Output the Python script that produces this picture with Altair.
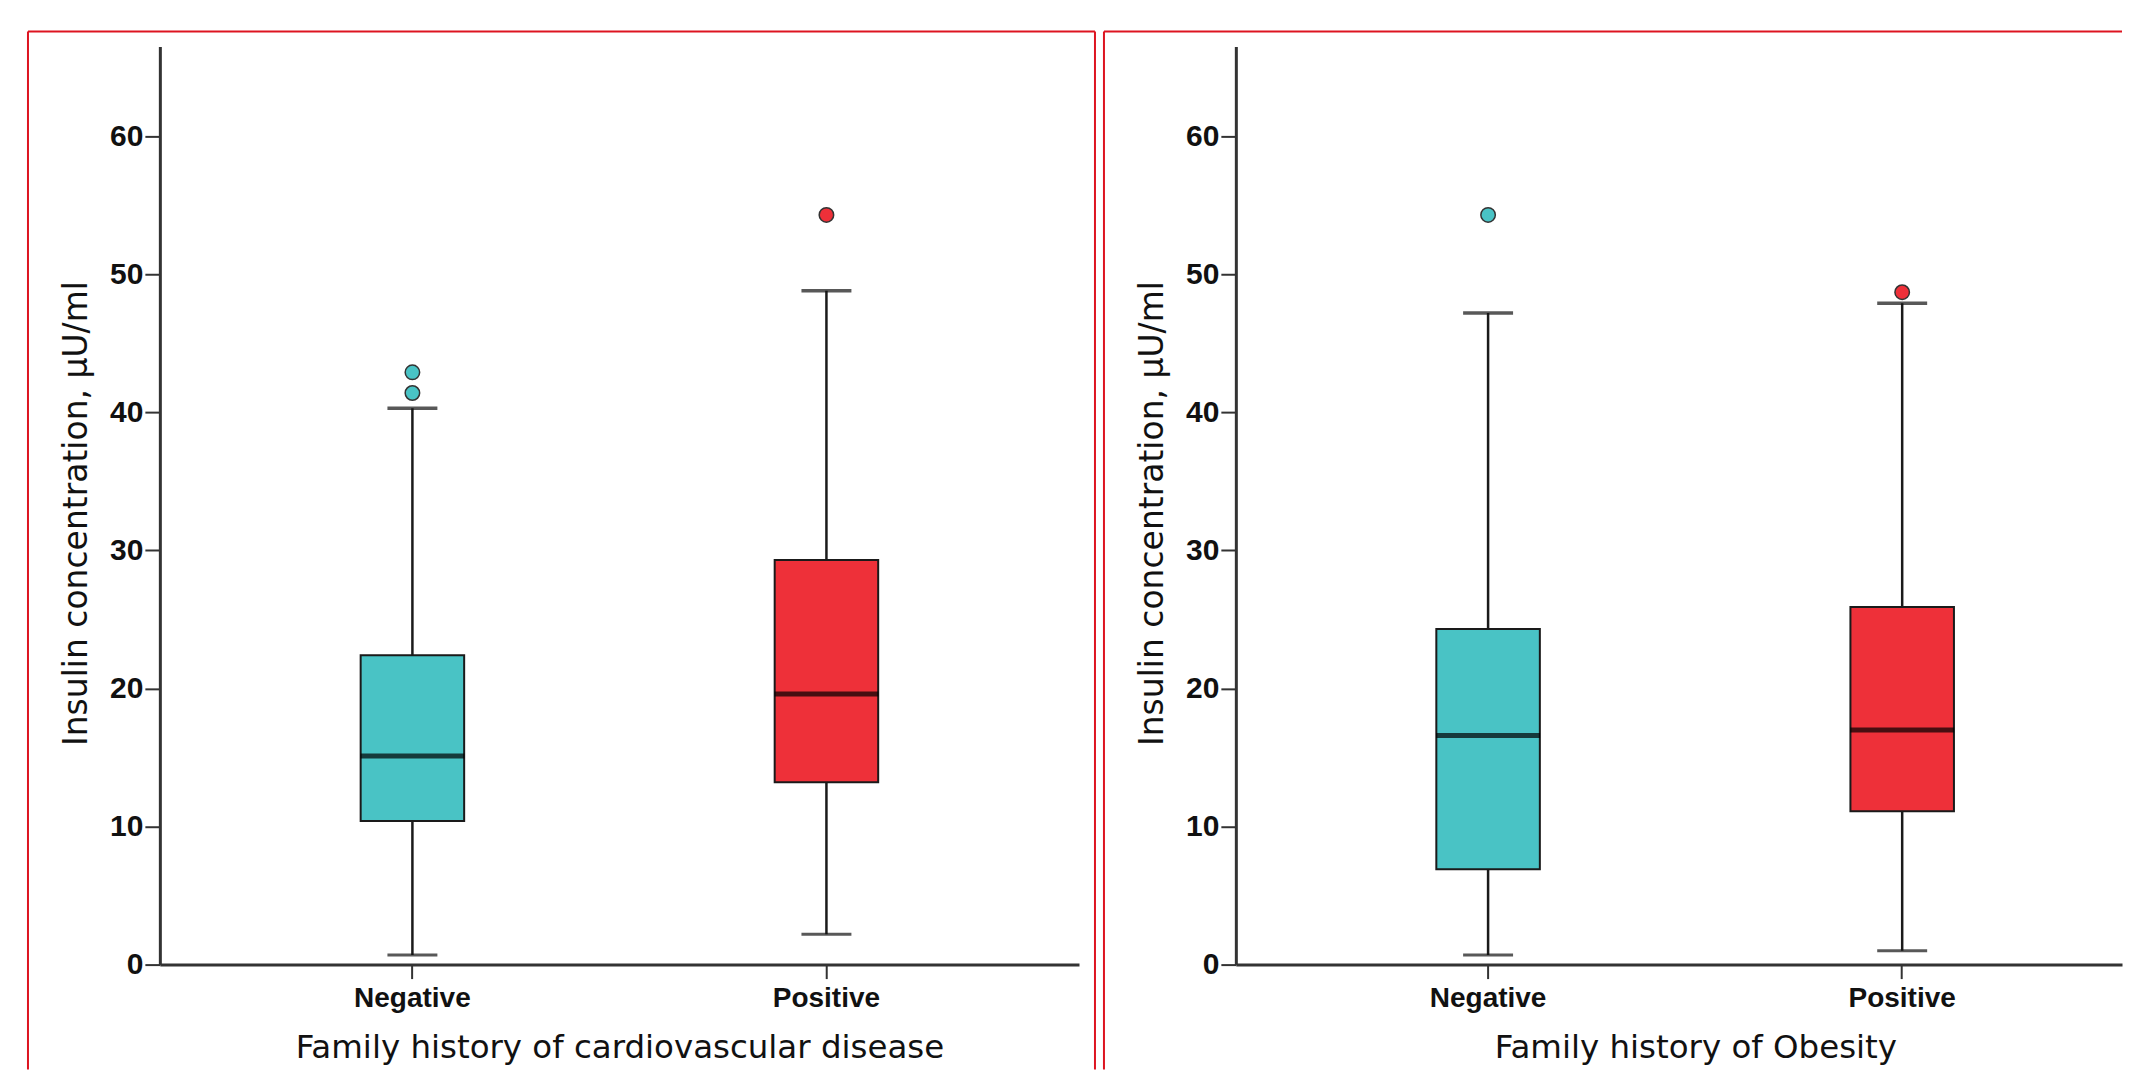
import altair as alt
import pandas as pd

# ---------------- data ----------------
groups = ["Negative", "Positive"]
box_colors = ["#49C3C5", "#EE3039"]
y_ticks = [0, 10, 20, 30, 40, 50, 60]

# Panel 1: Family history of cardiovascular disease
cvd_lower = [0.7, 2.2]
cvd_q1 = [10.4, 13.2]
cvd_median = [15.1, 19.6]
cvd_q3 = [22.4, 29.3]
cvd_upper = [40.3, 48.8]
cvd_out_group = ["Negative", "Negative", "Positive"]
cvd_out_value = [42.9, 41.4, 54.3]

# Panel 2: Family history of Obesity
ob_lower = [0.7, 1.0]
ob_q1 = [6.9, 11.1]
ob_median = [16.6, 17.0]
ob_q3 = [24.3, 25.9]
ob_upper = [47.2, 47.9]
ob_out_group = ["Negative", "Positive"]
ob_out_value = [54.3, 48.7]

Y_TITLE = "Insulin concentration, µU/ml"
TITLE_FONT = "DejaVu Sans"
PLOT_H = 919
BORDER = "#DD1420"
AXIS_C = "#333333"
TEXT_C = "#111111"


def panel(x_title, lower, q1, med, q3, upper, out_g, out_v,
          plot_w, pad_outer, align, right_border=True):
    stats = pd.DataFrame({"group": groups, "lower": lower, "q1": q1,
                          "median": med, "q3": q3, "upper": upper})
    outl = pd.DataFrame({"group": out_g, "value": out_v})

    x_axis = alt.Axis(
        title=x_title, labelAngle=0, grid=False,
        domainColor=AXIS_C, domainWidth=3,
        tickColor=AXIS_C, tickWidth=2, tickSize=14,
        labelFont="Liberation Sans", labelFontWeight="bold", labelFontSize=28,
        labelColor=TEXT_C, labelPadding=6,
        titleFont=TITLE_FONT, titleFontSize=32.5, titleFontWeight="normal",
        titleColor=TEXT_C, titleX=460, titleY=93, titleBaseline="alphabetic",
    )
    X = alt.X("group:N",
              scale=alt.Scale(domain=groups, paddingInner=0.75,
                              paddingOuter=pad_outer, align=align),
              axis=x_axis)
    y_axis = alt.Axis(
        title=Y_TITLE, values=y_ticks, grid=False,
        domainColor=AXIS_C, domainWidth=3, tickColor=AXIS_C, tickWidth=2,
        tickSize=15, labelFont="Liberation Sans Narrow, Liberation Sans",
        labelFontWeight="bold", labelFontSize=30, labelColor=TEXT_C,
        labelPadding=2,
        titleFont=TITLE_FONT, titleFontSize=33, titleFontWeight="normal",
        titleColor=TEXT_C, titleX=-73, titleY=467, titleBaseline="alphabetic",
        titleAngle=270,
    )
    yscale = alt.Scale(domain=[0, 66.5], nice=False, zero=False)
    color = alt.Color("group:N", scale=alt.Scale(domain=groups, range=box_colors),
                      legend=None)

    base = alt.Chart(stats).encode(x=X)
    whisker = base.mark_rule(color="#1a1a1a", strokeWidth=2.5).encode(
        y=alt.Y("lower:Q", scale=yscale, axis=y_axis), y2="upper:Q")
    cap_lo = base.mark_tick(color="#111111", thickness=3, size=50).encode(
        y=alt.Y("lower:Q", scale=yscale, axis=y_axis))
    cap_hi = base.mark_tick(color="#111111", thickness=3.5, size=50).encode(
        y=alt.Y("upper:Q", scale=yscale, axis=y_axis))
    box = base.mark_bar(stroke="#1a1a1a", strokeWidth=2, opacity=1).encode(
        y=alt.Y("q1:Q", scale=yscale, axis=y_axis), y2="q3:Q", color=color)
    median = base.mark_tick(color="#000000", thickness=5, size=104).encode(
        y=alt.Y("median:Q", scale=yscale, axis=y_axis))
    outliers = alt.Chart(outl).mark_circle(
        size=210, opacity=1, stroke="#333333", strokeWidth=1.5).encode(
        x=X, y=alt.Y("value:Q", scale=yscale, axis=y_axis), color=color)

    one = alt.Data(values=[{"k": 1}])
    layers = []
    # red frame around the panel (decoration)
    layers.append(alt.Chart(one).mark_rule(color=BORDER, strokeWidth=2).encode(
        x=alt.value(-132), y=alt.value(-15), y2=alt.value(1024)))
    top_end = 936 if right_border else plot_w
    layers.append(alt.Chart(one).mark_rule(color=BORDER, strokeWidth=2).encode(
        x=alt.value(-132), x2=alt.value(top_end), y=alt.value(-15)))
    if right_border:
        layers.append(alt.Chart(one).mark_rule(color=BORDER, strokeWidth=2).encode(
            x=alt.value(936), y=alt.value(-15), y2=alt.value(1024)))

    layers += [whisker, cap_lo, cap_hi, box, median, outliers]
    return alt.layer(*layers).properties(width=plot_w, height=PLOT_H)


left = panel("Family history of cardiovascular disease", cvd_lower, cvd_q1,
             cvd_median, cvd_q3, cvd_upper, cvd_out_group, cvd_out_value,
             plot_w=920, pad_outer=0.485, align=0.5)
right = panel("Family history of Obesity", ob_lower, ob_q1, ob_median, ob_q3,
              ob_upper, ob_out_group, ob_out_value,
              plot_w=887, pad_outer=0.445, align=0.544, right_border=False)

chart = alt.hconcat(left, right, spacing=7).properties(
    padding={"left": 19, "top": 22, "right": 0, "bottom": 0},
    background="white",
).configure_view(strokeWidth=0)

chart.save("out.html", embed_options={"renderer": "svg", "actions": False})
